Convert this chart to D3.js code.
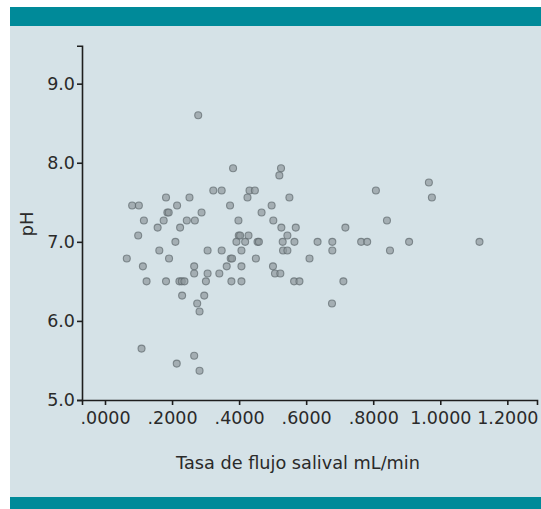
<!DOCTYPE html>
<html>
<head>
<meta charset="utf-8">
<script src="https://cdn.jsdelivr.net/npm/d3@7"></script>
<style>
  body { margin: 0; background: #ffffff; }
  svg text { font-family: "DejaVu Sans", sans-serif; fill: #2a2a2a; }
</style>
</head>
<body>
<div id="chart"></div>
<script>
// salival flow rate (mL/min) vs pH
let flow = [
    0.278,
    0.382, 0.525,
    0.520,
    0.966,
    0.323, 0.348, 0.431, 0.447, 0.808,
    0.182, 0.252, 0.425, 0.550, 0.975,
    0.081, 0.101, 0.215, 0.373, 0.497,
    0.186, 0.190, 0.288, 0.467,
    0.116, 0.175, 0.244, 0.268, 0.398, 0.502, 0.841,
    0.157, 0.224, 0.526, 0.569, 0.717,
    0.099, 0.399, 0.403, 0.428, 0.544,
    0.210, 0.392, 0.418, 0.455, 0.459, 0.530, 0.565, 0.634, 0.678, 0.764, 0.782, 0.907, 1.117,
    0.162, 0.306, 0.348, 0.407, 0.531, 0.544, 0.678, 0.850,
    0.065, 0.191, 0.375, 0.379, 0.450, 0.610,
    0.113, 0.266, 0.363, 0.407, 0.501,
    0.266, 0.306, 0.341, 0.507, 0.523,
    0.124, 0.182, 0.222, 0.229, 0.237, 0.301, 0.377, 0.407, 0.564, 0.580, 0.711,
    0.230, 0.296,
    0.275, 0.677,
    0.282,
    0.109,
    0.266,
    0.214,
    0.282
];
let ph = [
    8.60,
    7.93, 7.93,
    7.84,
    7.75,
    7.65, 7.65, 7.65, 7.65, 7.65,
    7.56, 7.56, 7.56, 7.56, 7.56,
    7.46, 7.46, 7.46, 7.46, 7.46,
    7.37, 7.37, 7.37, 7.37,
    7.27, 7.27, 7.27, 7.27, 7.27, 7.27, 7.27,
    7.18, 7.18, 7.18, 7.18, 7.18,
    7.08, 7.08, 7.08, 7.08, 7.08,
    7.0, 7.0, 7.0, 7.0, 7.0, 7.0, 7.0, 7.0, 7.0, 7.0, 7.0, 7.0, 7.0,
    6.89, 6.89, 6.89, 6.89, 6.89, 6.89, 6.89, 6.89,
    6.79, 6.79, 6.79, 6.79, 6.79, 6.79,
    6.69, 6.69, 6.69, 6.69, 6.69,
    6.60, 6.60, 6.60, 6.60, 6.60,
    6.50, 6.50, 6.50, 6.50, 6.50, 6.50, 6.50, 6.50, 6.50, 6.50, 6.50,
    6.32, 6.32,
    6.22, 6.22,
    6.12,
    5.65,
    5.56,
    5.46,
    5.37
];
let x_ticks = [0, 0.2, 0.4, 0.6, 0.8, 1.0, 1.2];
let x_tick_labels = [".0000", ".2000", ".4000", ".6000", ".8000", "1.0000", "1.2000"];
let y_ticks = [5, 6, 7, 8, 9];
let y_tick_labels = ["5.0", "6.0", "7.0", "8.0", "9.0"];
let x_title = "Tasa de flujo salival mL/min";
let y_title = "pH";

let chart_width = 541;
let chart_height = 509;

let svg = d3.select("#chart")
            .append("svg")
            .attr("width", chart_width)
            .attr("height", chart_height);

// panel + teal bands
svg.append("rect")
    .attr("x", 10).attr("y", 7)
    .attr("width", chart_width - 10).attr("height", chart_height - 7)
    .attr("fill", "#d5e2e7");
svg.append("rect")
    .attr("x", 10).attr("y", 7)
    .attr("width", chart_width - 10).attr("height", 19)
    .attr("fill", "#008a99");
svg.append("rect")
    .attr("x", 10).attr("y", 497)
    .attr("width", chart_width - 10).attr("height", 12)
    .attr("fill", "#008a99");

let xScale = d3.scaleLinear()
                .domain([-0.0686, 1.2885])
                .range([82, 537]);
let yScale = d3.scaleLinear()
                .domain([5, 9.48])
                .range([400, 45.7]);

let x_axis = svg.append("g")
    .attr("transform", "translate(0," + yScale(5) + ")")
    .call(d3.axisBottom(xScale)
            .tickValues(x_ticks)
            .tickSizeOuter(0)
            .tickSize(5)
            .tickPadding(7)
            .tickFormat((d, i) => x_tick_labels[i]));

let y_axis = svg.append("g")
    .attr("transform", "translate(" + xScale.range()[0] + ",0)")
    .call(d3.axisLeft(yScale)
            .tickValues(y_ticks)
            .tickSizeOuter(0)
            .tickSize(5)
            .tickPadding(2)
            .tickFormat((d, i) => y_tick_labels[i]));

svg.selectAll(".domain, .tick line")
    .attr("stroke", "#1e1e1e")
    .attr("stroke-width", 1.6);
svg.selectAll(".tick text")
    .style("font-size", "17.5px")
    .attr("fill", "#2a2a2a");

svg.append("text")
    .attr("x", 298)
    .attr("y", 469)
    .attr("text-anchor", "middle")
    .style("font-size", "17.7px")
    .text(x_title);

svg.append("text")
    .attr("transform", "translate(33,224) rotate(-90)")
    .attr("text-anchor", "middle")
    .style("font-size", "18px")
    .text(y_title);

svg.selectAll(".pt")
    .data(flow)
    .enter()
    .append("circle")
    .attr("class", "pt")
    .attr("cx", d => xScale(d))
    .attr("cy", (d, i) => yScale(ph[i]))
    .attr("r", 3.5)
    .attr("fill", "#8e989d")
    .attr("fill-opacity", 0.7)
    .attr("stroke", "#5f696e")
    .attr("stroke-opacity", 0.7)
    .attr("stroke-width", 1.1);
</script>
</body>
</html>
